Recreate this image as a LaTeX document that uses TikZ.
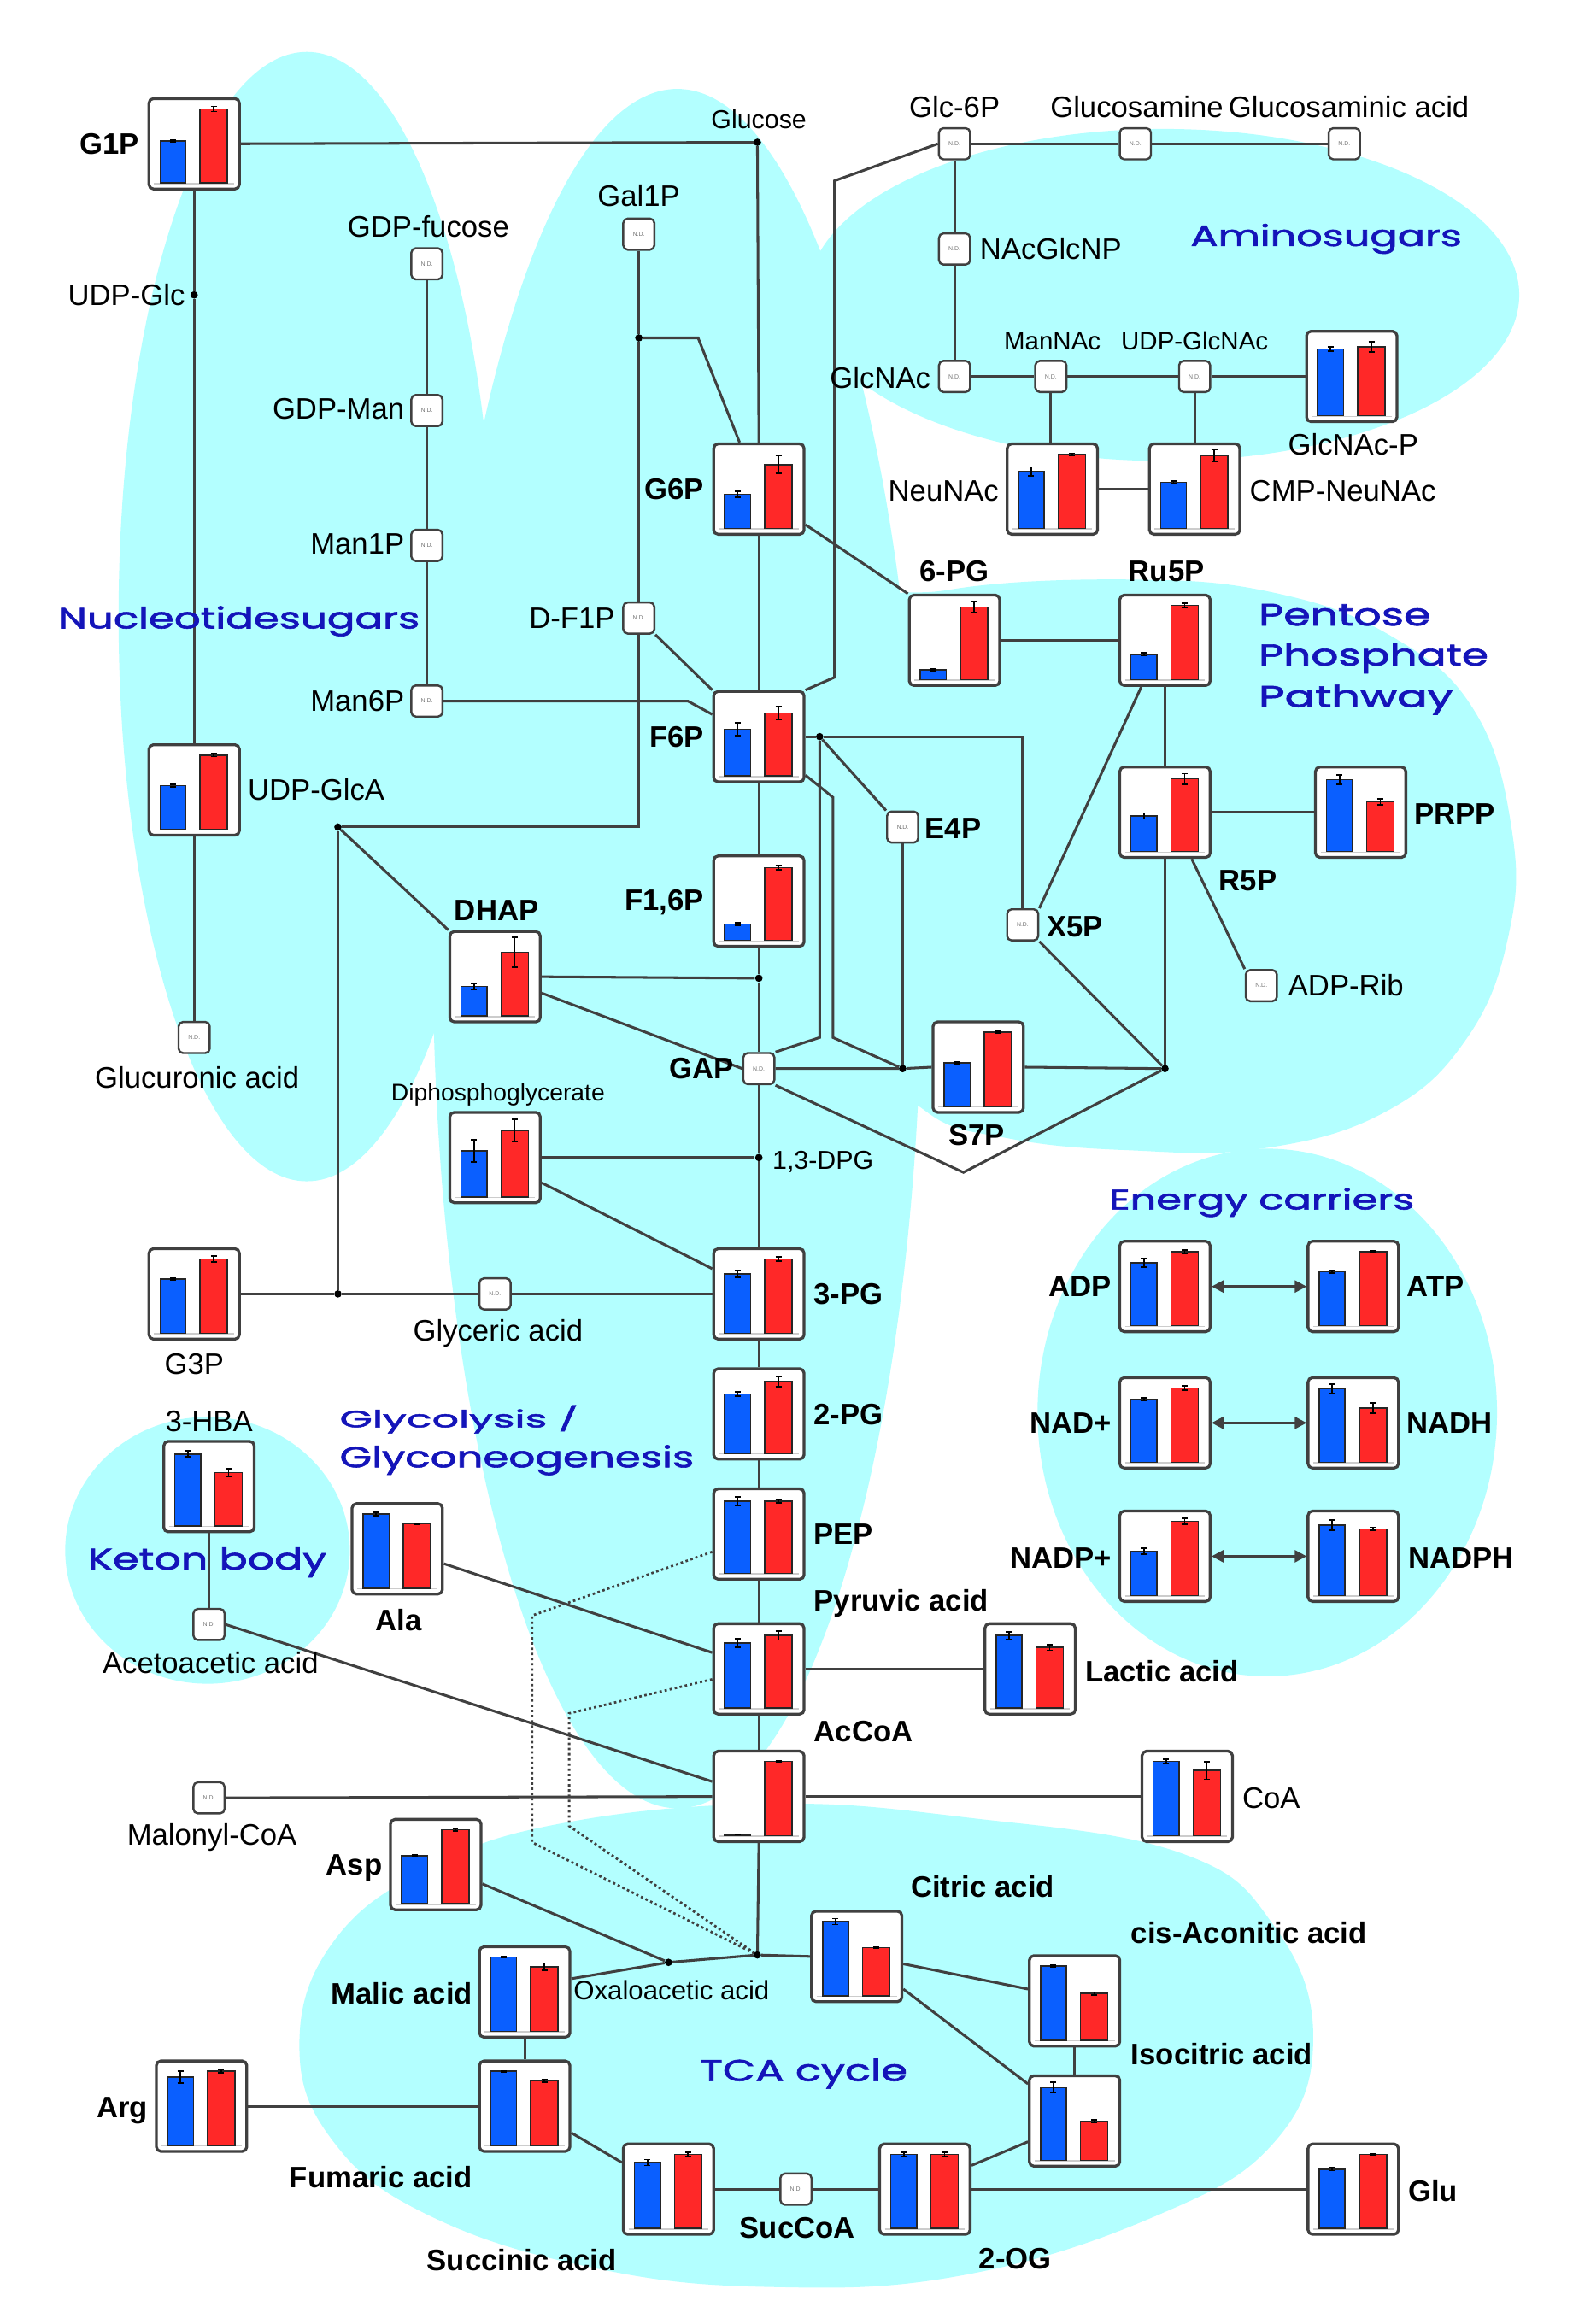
\documentclass[tikz,border=0pt]{standalone}
\usepackage{fontspec}
\setmainfont{Liberation Sans}
\newfontfamily\regfont[FakeBold=1.6]{Poppins}
\usepackage{graphicx}
\usetikzlibrary{arrows.meta}
\definecolor{bgc}{RGB}{179,255,255}
\definecolor{lnc}{RGB}{64,64,64}
\definecolor{bblue}{RGB}{10,95,255}
\definecolor{bred}{RGB}{255,40,40}
\definecolor{regblue}{RGB}{20,20,185}
% name, x, y, blue, red, blue err, red err
\newcommand\chartnode[7]{%
  \node[chartbox] (#1) at (#2,#3) {};
  \draw[black!20, line width=0.8pt] ({#2-27},{#3+26.9}) -- ({#2+27},{#3+26.9});
  \filldraw[fill=bblue, draw=black!85, line width=0.9pt] ({#2-23},{#3+26.5}) rectangle ({#2-5.5},{#3+26.5-50*#4});
  \filldraw[fill=bred, draw=black!85, line width=0.9pt] ({#2+4},{#3+26.5}) rectangle ({#2+22.5},{#3+26.5-50*#5});
  \draw[black, line width=1pt] ({#2-16.25},{#3+26.5-50*#4-50*#6}) -- ++(4,0)
     ({#2-14.25},{#3+26.5-50*#4-50*#6}) -- ({#2-14.25},{#3+26.5-50*#4+50*#6})
     ({#2-16.25},{#3+26.5-50*#4+50*#6}) -- ++(4,0);
  \draw[black, line width=1pt] ({#2+11.25},{#3+26.5-50*#5-50*#7}) -- ++(4,0)
     ({#2+13.25},{#3+26.5-50*#5-50*#7}) -- ({#2+13.25},{#3+26.5-50*#5+50*#7})
     ({#2+11.25},{#3+26.5-50*#5+50*#7}) -- ++(4,0);
}
\newcommand\reglab[6]{\node[region] (#1) at (#2,#3) {\resizebox{#4pt}{#5pt}{\regfont #6}};}
\begin{document}
\begin{tikzpicture}[x=1pt,y=-1pt,
  chartbox/.style={draw=lnc, line width=1.9pt, rounded corners=3pt, fill=white, minimum width=61pt, minimum height=61pt, inner sep=0pt},
  ndbox/.style={draw=lnc, line width=1.4pt, rounded corners=3pt, fill=white, minimum width=21pt, minimum height=21pt, inner sep=0pt, font=\fontsize{4}{4}\selectfont, text=black!55},
  dotnode/.style={circle, fill=black, inner sep=0pt, minimum size=5pt},
  conn/.style={draw=lnc, line width=1.75pt},
  dotconn/.style={draw=lnc, line width=1.6pt, dash pattern=on 1.6pt off 1.9pt},
  lab/.style={font=\fontsize{20}{22}\selectfont, inner sep=0pt},
  blab/.style={font=\fontsize{20}{22}\selectfont\bfseries, inner sep=0pt},
  mlab/.style={font=\fontsize{17.5}{19}\selectfont, inner sep=0pt},
  slab/.style={font=\fontsize{16.3}{18}\selectfont, inner sep=0pt},
  region/.style={text=regblue, inner sep=0pt, anchor=base west},
  dbl/.style={conn, {Triangle[length=8pt,width=8pt]}-{Triangle[length=8pt,width=8pt]}}]

\fill[white] (0,0) rectangle (1061,1568);
\useasboundingbox (0,0) rectangle (1061,1568);

% ---------- background blobs ----------
\fill[bgc] (207,416) ellipse [x radius=127, y radius=381];
\fill[bgc] (457,640) ellipse [x radius=165, y radius=580];
\fill[bgc] (785,199) ellipse [x radius=240, y radius=112];
\fill[bgc] plot[smooth cycle, tension=0.7] coordinates {(590,420) (640,398) (761,391) (860,400) (940,430) (995,480) (1020,560) (1018,630) (990,700) (935,750) (851,775) (760,776) (680,768) (625,750) (590,700) (570,550)};
\fill[bgc] (855,953) ellipse [x radius=155, y radius=178];
\fill[bgc] (140,1046) ellipse [x radius=96, y radius=90];
\fill[bgc] plot[smooth cycle, tension=0.7] coordinates {(202,1380) (225,1310) (290,1260) (380,1230) (519,1217) (650,1226) (796,1250) (860,1300) (886,1374) (860,1445) (780,1495) (650,1535) (520,1543) (400,1530) (290,1495) (225,1445)};

% ---------- N.D. nodes ----------
\node[ndbox] (glc6p) at (644,97) {N.D.};
\node[ndbox] (glcn) at (766,97) {N.D.};
\node[ndbox] (glcna) at (907,97) {N.D.};
\node[ndbox] (nacglcnp) at (644,168) {N.D.};
\node[ndbox] (glcnac) at (644,254) {N.D.};
\node[ndbox] (mannac) at (709,254) {N.D.};
\node[ndbox] (udpglcnac) at (806,254) {N.D.};
\node[ndbox] (gdpfuc) at (288,178) {N.D.};
\node[ndbox] (gdpman) at (288,277) {N.D.};
\node[ndbox] (man1p) at (288,368) {N.D.};
\node[ndbox] (man6p) at (288,473) {N.D.};
\node[ndbox] (gal1p) at (431,158) {N.D.};
\node[ndbox] (df1p) at (431,417) {N.D.};
\node[ndbox] (glcua) at (131,700) {N.D.};
\node[ndbox] (e4p) at (609,558) {N.D.};
\node[ndbox] (x5p) at (690,624) {N.D.};
\node[ndbox] (adprib) at (851,665) {N.D.};
\node[ndbox] (gap) at (512,721) {N.D.};
\node[ndbox] (glyc) at (334,873) {N.D.};
\node[ndbox] (acac) at (141,1096) {N.D.};
\node[ndbox] (malcoa) at (141,1213) {N.D.};
\node[ndbox] (succoa) at (537,1477) {N.D.};

% ---------- chart nodes ----------
\chartnode{g1p}{131}{97}{0.57}{1.0}{0.01}{0.035}
\chartnode{udpglca}{131}{533}{0.59}{1.0}{0.015}{0.02}
\chartnode{g6p}{512}{330}{0.46}{0.86}{0.04}{0.12}
\chartnode{f6p}{512}{497}{0.63}{0.85}{0.09}{0.09}
\chartnode{f16p}{512}{608}{0.22}{0.98}{0.015}{0.03}
\chartnode{dhap}{334}{659}{0.40}{0.86}{0.04}{0.2}
\chartnode{dpg}{334}{781}{0.62}{0.90}{0.15}{0.15}
\chartnode{g3p}{131}{873}{0.73}{1.0}{0.01}{0.04}
\chartnode{pg3}{512}{873}{0.80}{1.0}{0.05}{0.03}
\chartnode{pg2}{512}{954}{0.80}{0.97}{0.03}{0.07}
\chartnode{pep}{512}{1035}{0.97}{0.97}{0.06}{0.02}
\chartnode{pyr}{512}{1126}{0.88}{0.98}{0.06}{0.06}
\chartnode{accoa}{512}{1212}{0.015}{1.0}{0.005}{0.01}
\chartnode{hba}{141}{1003}{0.97}{0.72}{0.04}{0.05}
\chartnode{ala}{268}{1045}{1.0}{0.87}{0.02}{0.01}
\chartnode{lac}{695}{1126}{0.98}{0.82}{0.05}{0.04}
\chartnode{coa}{801}{1212}{1.0}{0.88}{0.03}{0.12}
\chartnode{asp}{294}{1258}{0.65}{1.0}{0.01}{0.02}
\chartnode{mal}{354}{1344}{1.0}{0.87}{0.01}{0.05}
\chartnode{fum}{354}{1421}{1.0}{0.87}{0.01}{0.02}
\chartnode{arg}{136}{1421}{0.92}{1.0}{0.08}{0.02}
\chartnode{suc}{451}{1477}{0.89}{1.0}{0.04}{0.03}
\chartnode{og2}{624}{1477}{1.0}{1.0}{0.03}{0.03}
\chartnode{glu}{913}{1477}{0.80}{1.0}{0.02}{0.01}
\chartnode{cit}{578}{1320}{1.0}{0.65}{0.04}{0.01}
\chartnode{cis}{725}{1350}{1.0}{0.63}{0.01}{0.02}
\chartnode{iso}{725}{1431}{0.98}{0.53}{0.07}{0.02}
\chartnode{adp}{786}{868}{0.85}{1.0}{0.06}{0.02}
\chartnode{atp}{913}{868}{0.73}{1.0}{0.015}{0.01}
\chartnode{nad}{786}{960}{0.85}{1.0}{0.015}{0.03}
\chartnode{nadh}{913}{960}{0.99}{0.73}{0.06}{0.07}
\chartnode{nadp}{786}{1050}{0.60}{1.0}{0.04}{0.04}
\chartnode{nadph}{913}{1050}{0.95}{0.90}{0.07}{0.02}
\chartnode{neunac}{710}{330}{0.77}{1.0}{0.06}{0.015}
\chartnode{cmp}{806}{330}{0.62}{0.98}{0.015}{0.08}
\chartnode{glcnacp}{912}{254}{0.90}{0.93}{0.03}{0.07}
\chartnode{pg6}{644}{432}{0.13}{0.98}{0.01}{0.07}
\chartnode{ru5p}{786}{432}{0.34}{1.0}{0.02}{0.03}
\chartnode{r5p}{786}{548}{0.48}{0.98}{0.04}{0.07}
\chartnode{prpp}{918}{548}{0.97}{0.67}{0.06}{0.04}
\chartnode{s7p}{660}{720}{0.59}{1.0}{0.01}{0.01}

% ---------- junction dots ----------
\node[dotnode] (glcdot) at (511,96) {};
\node[dotnode] (udpglcdot) at (131,199) {};
\node[dotnode] (galdot) at (431,228) {};
\node[dotnode] (dhapdot) at (228,558) {};
\node[dotnode] (g3pdot) at (228,873) {};
\node[dotnode] (fdot) at (512,660) {};
\node[dotnode] (dpgdot) at (512,781) {};
\node[dotnode] (f6pdot) at (553,497) {};
\node[dotnode] (e4pdot) at (609,721) {};
\node[dotnode] (s7pdot) at (786,721) {};
\node[dotnode] (tcadot) at (511,1319) {};
\node[dotnode] (oxadot) at (451,1324) {};

% ---------- connectors ----------
\draw[conn] (g1p.east) -- (glcdot);
\draw[conn] (glcdot) -- (g6p.north);
\draw[conn] (g1p.south) -- (udpglcdot) -- (udpglca.north);
\draw[conn] (udpglca.south) -- (glcua.north);
\draw[conn] (gdpfuc) -- (gdpman) -- (man1p) -- (man6p);
\draw[conn] (man6p.east) -- (464,473) -- ([yshift=15pt]f6p.west);
\draw[conn] (gal1p.south) -- (galdot) -- (df1p.north);
\draw[conn] (galdot) -- (471,228) -- ([xshift=-13pt]g6p.north);
\draw[conn] (df1p.south) -- (431,558) -- (dhapdot);
\draw[conn] (df1p.south east) -- (f6p.north west);
\draw[conn] (dhapdot) -- (dhap.north west);
\draw[conn] (dhapdot) -- (g3pdot);
\draw[conn] (g3p.east) -- (g3pdot) -- (glyc) -- (pg3.west);
\draw[conn] (dhap.east) -- (fdot);
\draw[conn] ([yshift=-11pt]dhap.east) -- (gap.west);
\draw[conn] (dpg.east) -- (dpgdot);
\draw[conn] ([yshift=-17pt]dpg.east) -- ([yshift=17pt]pg3.west);
\draw[conn] (g6p.south) -- (f6p.north);
\draw[conn] (f6p.south) -- (f16p.north);
\draw[conn] (f16p.south) -- (fdot) -- (gap.north);
\draw[conn] (gap.south) -- (dpgdot) -- (pg3.north);
\draw[conn] (pg3.south) -- (pg2.north);
\draw[conn] (pg2.south) -- (pep.north);
\draw[conn] (pep.south) -- (pyr.north);
\draw[conn] (pyr.south) -- (accoa.north);
\draw[conn] (accoa.south) -- (tcadot);
% pentose phosphate
\draw[conn] ([yshift=-24pt]g6p.east) -- (pg6.north west);
\draw[conn] (pg6) -- (ru5p);
\draw[conn] (ru5p) -- (r5p);
\draw[conn] ([xshift=-16pt]ru5p.south) -- (x5p.north east);
\draw[conn] (r5p) -- (prpp);
\draw[conn] ([xshift=18pt]r5p.south) -- (adprib.north west);
\draw[conn] (r5p.south) -- (s7pdot);
\draw[conn] (x5p.south east) -- (s7pdot);
\draw[conn] (f6p.east) -- (f6pdot);
\draw[conn] (f6pdot) -- (690,497) -- (x5p.north);
\draw[conn] (f6pdot) -- (e4p.north west);
\draw[conn] (f6pdot) -- (553,700) -- (gap.north east);
\draw[conn] ([yshift=-26pt]f6p.east) -- (562,538) -- (562,700) -- (e4pdot);
\draw[conn] (e4p.south) -- (e4pdot);
\draw[conn] (gap.east) -- (e4pdot) -- (s7p.west);
\draw[conn] (s7p.east) -- (s7pdot);
\draw[conn] (gap.south east) -- (650,791) -- (s7pdot);
% aminosugars
\draw[conn] (f6p.north east) -- (563,457) -- (563,122) -- (glc6p.west);
\draw[conn] (glc6p) -- (glcn);
\draw[conn] (glcn) -- (glcna);
\draw[conn] (glc6p) -- (nacglcnp) -- (glcnac);
\draw[conn] (glcnac) -- (mannac) -- (udpglcnac) -- (glcnacp);
\draw[conn] (mannac.south) -- (mannac.south |- neunac.north);
\draw[conn] (udpglcnac) -- (cmp);
\draw[conn] (neunac) -- (cmp);
% lower part
\draw[conn] (tcadot) -- (cit.west);
\draw[conn] (tcadot) -- (oxadot) -- ([yshift=9pt]mal.east);
\draw[conn] ([yshift=-13pt]asp.east) -- (oxadot);
\draw[dotconn] ([yshift=-12pt]pep.west) -- (359,1090) -- (359,1243) -- (tcadot);
\draw[dotconn] ([yshift=-7pt]pyr.west) -- (384,1156) -- (384,1232) -- (tcadot);
\draw[conn] ([yshift=-10pt]ala.east) -- ([yshift=11pt]pyr.west);
\draw[conn] (pyr) -- (lac);
\draw[conn] (hba) -- (acac);
\draw[conn] (acac.east) -- ([yshift=10pt]accoa.west);
\draw[conn] (malcoa) -- (accoa);
\draw[conn] (accoa) -- (coa);
\draw[conn] (mal) -- (fum);
\draw[conn] (arg) -- (fum);
\draw[conn] ([yshift=-18pt]fum.east) -- ([yshift=18pt]suc.west);
\draw[conn] (suc) -- (succoa) -- (og2);
\draw[conn] (og2) -- (glu);
\draw[conn] ([yshift=16pt]og2.east) -- ([yshift=-14pt]iso.west);
\draw[conn] (iso) -- (cis);
\draw[conn] ([yshift=-5pt]cit.east) -- ([yshift=8pt]cis.west);
\draw[conn] ([yshift=-22pt]cit.east) -- ([yshift=25pt]iso.west);
% energy carriers
\draw[dbl] (adp) -- (atp);
\draw[dbl] (nad) -- (nadh);
\draw[dbl] (nadp) -- (nadph);

% ---------- labels ----------
\node[mlab, anchor=base] (lglucose) at (512,87) {Glucose};
\node[blab, anchor=base east] (lg1p) at (94,104) {G1P};
\node[lab, anchor=base east] (ludpglc) at (125,206) {UDP-Glc};
\node[lab, anchor=base] (lgdpfuc) at (289,160) {GDP-fucose};
\node[lab, anchor=base east] (lgdpman) at (273,283) {GDP-Man};
\node[lab, anchor=base east] (lman1p) at (273,374) {Man1P};
\node[lab, anchor=base east] (lman6p) at (273,480) {Man6P};
\node[lab, anchor=base] (lgal1p) at (431,139) {Gal1P};
\node[lab, anchor=base east] (ldf1p) at (415,424) {D-F1P};
\node[lab, anchor=base west] (ludpglca) at (167,540) {UDP-GlcA};
\node[lab, anchor=base] (lglcua) at (133,734) {Glucuronic acid};
\node[blab, anchor=base east] (lg6p) at (475,337) {G6P};
\node[blab, anchor=base east] (lf6p) at (475,504) {F6P};
\node[blab, anchor=base east] (lf16p) at (475,614) {F1,6P};
\node[blab, anchor=base] (ldhap) at (335,621) {DHAP};
\node[slab, anchor=base] (ldpg) at (336,743) {Diphosphoglycerate};
\node[blab, anchor=base east] (lgap) at (495,728) {GAP};
\node[mlab, anchor=base west] (l13dpg) at (521,789) {1,3-DPG};
\node[lab, anchor=base] (lg3p) at (131,927) {G3P};
\node[lab, anchor=base] (lglyc) at (336,905) {Glyceric acid};
\node[blab, anchor=base west] (lpg3) at (549,880) {3-PG};
\node[blab, anchor=base west] (lpg2) at (549,961) {2-PG};
\node[blab, anchor=base west] (lpep) at (549,1042) {PEP};
\node[blab, anchor=base west] (lpyr) at (549,1087) {Pyruvic acid};
\node[blab, anchor=base west] (laccoa) at (549,1175) {AcCoA};
\node[lab, anchor=base] (lhba) at (141,966) {3-HBA};
\node[blab, anchor=base] (lala) at (269,1100) {Ala};
\node[lab, anchor=base] (lacac) at (142,1129) {Acetoacetic acid};
\node[lab, anchor=base] (lmalcoa) at (143,1245) {Malonyl-CoA};
\node[blab, anchor=base east] (lasp) at (258,1265) {Asp};
\node[blab, anchor=base east] (lmal) at (319,1352) {Malic acid};
\node[font=\fontsize{18}{20}\selectfont, inner sep=0pt, anchor=base] (loxa) at (453,1349) {Oxaloacetic acid};
\node[blab, anchor=base east] (larg) at (100,1429) {Arg};
\node[blab, anchor=base] (lfum) at (257,1476) {Fumaric acid};
\node[blab, anchor=base] (lsuc) at (352,1532) {Succinic acid};
\node[blab, anchor=base] (lsuccoa) at (538,1510) {SucCoA};
\node[blab, anchor=base] (log2) at (685,1531) {2-OG};
\node[blab, anchor=base west] (lglu) at (950,1485) {Glu};
\node[blab, anchor=base] (lcit) at (663,1280) {Citric acid};
\node[blab, anchor=base west] (lcis) at (763,1311) {cis-Aconitic acid};
\node[blab, anchor=base west] (liso) at (763,1393) {Isocitric acid};
\node[blab, anchor=base west] (llac) at (732,1135) {Lactic acid};
\node[lab, anchor=base west] (lcoa) at (838,1220) {CoA};
\node[blab, anchor=base east] (ladp) at (750,875) {ADP};
\node[blab, anchor=base west] (latp) at (949,875) {ATP};
\node[blab, anchor=base east] (lnad) at (750,967) {NAD+};
\node[blab, anchor=base west] (lnadh) at (949,967) {NADH};
\node[blab, anchor=base east] (lnadp) at (750,1058) {NADP+};
\node[blab, anchor=base west] (lnadph) at (950,1058) {NADPH};
\node[lab, anchor=base] (lglc6p) at (644,79) {Glc-6P};
\node[lab, anchor=base] (lglcn) at (767,79) {Glucosamine};
\node[lab, anchor=base] (lglcna) at (910,79) {Glucosaminic acid};
\node[lab, anchor=base west] (lnacglcnp) at (661,175) {NAcGlcNP};
\node[lab, anchor=base east] (lglcnac) at (628,262) {GlcNAc};
\node[font=\fontsize{17}{19}\selectfont, inner sep=0pt, anchor=base] (lmannac) at (710,236) {ManNAc};
\node[font=\fontsize{17}{19}\selectfont, inner sep=0pt, anchor=base] (ludpglcnac) at (806,236) {UDP-GlcNAc};
\node[lab, anchor=base] (lglcnacp) at (913,307) {GlcNAc-P};
\node[lab, anchor=base east] (lneunac) at (674,338) {NeuNAc};
\node[lab, anchor=base west] (lcmp) at (843,338) {CMP-NeuNAc};
\node[blab, anchor=base] (lpg6) at (644,392) {6-PG};
\node[blab, anchor=base] (lru5p) at (787,392) {Ru5P};
\node[blab, anchor=base west] (le4p) at (624,566) {E4P};
\node[blab, anchor=base west] (lx5p) at (706,632) {X5P};
\node[blab, anchor=base] (lr5p) at (842,601) {R5P};
\node[blab, anchor=base west] (lprpp) at (954,556) {PRPP};
\node[lab, anchor=base west] (ladprib) at (869,672) {ADP-Rib};
\node[blab, anchor=base] (ls7p) at (659,773) {S7P};

% ---------- region titles ----------
\reglab{rnuc}{39}{424}{244}{15}{Nucleotidesugars}
\reglab{ramino}{803}{166}{183}{15}{Aminosugars}
\reglab{rpen}{849}{422}{116}{14.5}{Pentose}
\reglab{rpho}{849}{449}{155}{15}{Phosphate}
\reglab{rpat}{849}{477}{131}{15}{Pathway}
\reglab{rene}{748}{816}{206}{14.5}{Energy carriers}
\reglab{rgly}{229}{963}{161}{15}{Glycolysis /}
\reglab{rgln}{229}{990}{239}{15}{Glyconeogenesis}
\reglab{rket}{59}{1059}{161}{15}{Keton body}
\reglab{rtca}{472}{1404}{140}{15}{TCA cycle}
\end{tikzpicture}
\end{document}
